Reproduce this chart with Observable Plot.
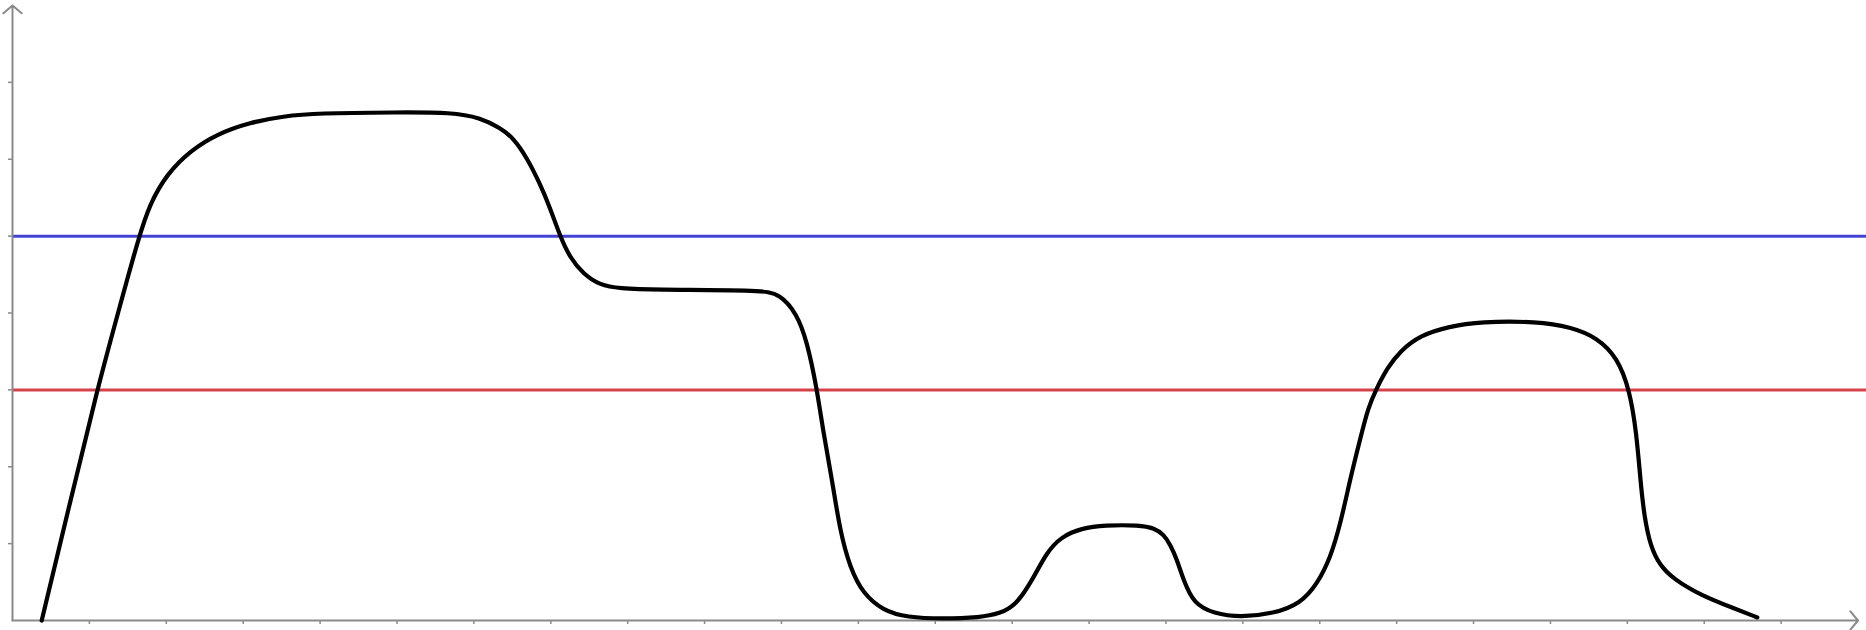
<!DOCTYPE html>
<html>
<head>
<meta charset="utf-8">
<script src="https://cdn.jsdelivr.net/npm/d3@7"></script>
<script src="https://cdn.jsdelivr.net/npm/@observablehq/plot@0.6"></script>
<style>
  html, body { margin: 0; padding: 0; background: white; }
</style>
</head>
<body>
<div id="chart"></div>
<script>
const curveX = [0.38, 0.74, 1.10, 1.38, 1.64, 1.79, 2.01, 2.31, 2.66, 3.09, 3.52, 3.96, 5.0, 5.72, 6.08, 6.34, 6.51, 6.69, 6.86, 6.99, 7.12, 7.25, 7.42, 7.64, 7.90, 8.3, 9.72, 9.98, 10.2, 10.33, 10.46, 10.54, 10.66, 10.76, 10.89, 11.06, 11.32, 11.63, 12.1, 12.58, 12.84, 13.05, 13.26, 13.45, 13.64, 13.9, 14.2, 14.66, 14.85, 14.97, 15.06, 15.14, 15.23, 15.36, 15.62, 15.97, 16.4, 16.75, 16.97, 17.14, 17.27, 17.40, 17.53, 17.63, 17.73, 17.88, 18.05, 18.31, 18.66, 19.09, 19.83, 20.26, 20.61, 20.87, 21.03, 21.12, 21.17, 21.22, 21.3, 21.42, 21.6, 21.95, 22.38, 22.69];
const curveY = [0, 1.5, 3.0, 4.03, 4.98, 5.43, 5.81, 6.11, 6.33, 6.48, 6.56, 6.60, 6.61, 6.61, 6.54, 6.41, 6.28, 6.02, 5.68, 5.37, 5.0, 4.72, 4.51, 4.36, 4.32, 4.30, 4.30, 4.25, 3.99, 3.64, 3.02, 2.47, 1.82, 1.17, 0.69, 0.35, 0.13, 0.04, 0.02, 0.04, 0.09, 0.2, 0.52, 0.89, 1.09, 1.2, 1.24, 1.24, 1.2, 1.12, 0.98, 0.8, 0.52, 0.22, 0.09, 0.04, 0.09, 0.22, 0.48, 0.82, 1.26, 1.86, 2.38, 2.77, 3.0, 3.29, 3.51, 3.71, 3.82, 3.89, 3.89, 3.82, 3.68, 3.42, 3.0, 2.43, 1.82, 1.35, 0.97, 0.72, 0.54, 0.33, 0.16, 0.04];
const blueLevel = 5;
const redLevel = 3;
const xTicks = d3.range(1, 24);
const yTicks = d3.range(1, 8);
const xMax = 24;
const yMax = 8;

const curve = curveX.map((x, i) => ({x, y: curveY[i]}));
const axes = [
  {x1: 0, y1: 0, x2: 0, y2: yMax},
  {x1: 0, y1: 0, x2: xMax, y2: 0}
];

const chart = Plot.plot({
  width: 1866,
  height: 630,
  marginLeft: 12,
  marginRight: 0,
  marginTop: 5,
  marginBottom: 10,
  x: {domain: [0, 24.11], axis: null},
  y: {domain: [0, yMax], axis: null},
  style: {background: "white", overflow: "visible"},
  marks: [
    Plot.axisX({ticks: xTicks, tickSize: 4, tickFormat: () => "", stroke: "#8a8a8a", strokeWidth: 1.5, label: null}),
    Plot.axisY({ticks: yTicks, tickSize: 4, tickFormat: () => "", stroke: "#8a8a8a", strokeWidth: 1.5, label: null}),
    Plot.ruleY([blueLevel], {stroke: "#4242d6", strokeWidth: 3}),
    Plot.ruleY([redLevel], {stroke: "#d6424a", strokeWidth: 3}),
    Plot.arrow(axes, {x1: "x1", y1: "y1", x2: "x2", y2: "y2", stroke: "#8a8a8a", strokeWidth: 2, headAngle: 100, headLength: 9}),
    Plot.line(curve, {x: "x", y: "y", stroke: "black", strokeWidth: 4.2, curve: "basis"})
  ]
});
document.getElementById("chart").appendChild(chart);
</script>
</body>
</html>
